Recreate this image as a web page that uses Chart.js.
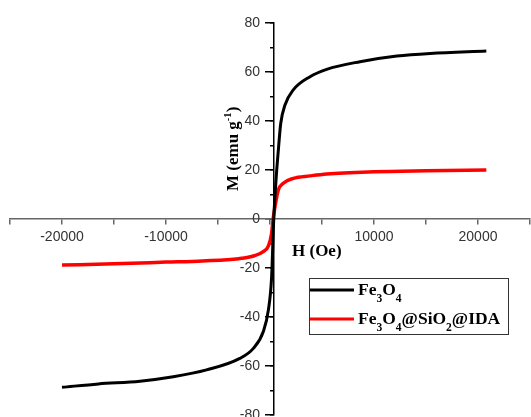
<!DOCTYPE html>
<html>
<head>
<meta charset="utf-8">
<script src="https://cdn.jsdelivr.net/npm/chart.js@4.4.0/dist/chart.umd.min.js"></script>
<style>
  html, body { margin: 0; padding: 0; background: #fff; }
</style>
</head>
<body>
<canvas id="hysteresisChart" width="531" height="417"></canvas>
<script>
// Field (Oe) and magnetisation (emu/g)
const fe3o4Field = [-20000, -16500, -12500, -9300, -6100, -2900, -1600, -650, -150, 150, 360, 580, 800, 1030, 1440, 2240, 3850, 5450, 8650, 12200, 15400, 20800];
const fe3o4Moment = [-68.7, -67.3, -66.2, -64.4, -61.6, -56.9, -52.8, -46, -37, -24, 0, 16, 28, 39, 46.5, 52.7, 58.1, 61.1, 64.2, 66.5, 67.6, 68.6];

const coatedField = [-20000, -15000, -10000, -6500, -3000, -1500, -650, -150, 150, 300, 500, 800, 1280, 2240, 3850, 5450, 10000, 15000, 20800];
const coatedMoment = [-18.8, -18.3, -17.6, -17.1, -16.2, -15, -13.3, -11, -6, 0, 5.5, 11.8, 14.6, 16.6, 17.6, 18.4, 19.3, 19.7, 20];

const seriesNames = ["Fe3O4", "Fe3O4@SiO2@IDA"];
const xTickLabels = [-20000, -10000, 10000, 20000];
const yTickLabels = [-80, -60, -40, -20, 0, 20, 40, 60, 80];

function toPoints(xs, ys) {
  return xs.map((x, i) => ({ x: x, y: ys[i] }));
}

// draws a string where "_x" parts are subscripts and "^x" parts superscripts
function drawRich(ctx, parts, x, y, size) {
  parts.forEach((p) => {
    let s = p, dy = 0, fs = size;
    if (p[0] === "_") { s = p.slice(1); dy = size * 0.38; fs = size * 0.66; }
    if (p[0] === "^") { s = p.slice(1); dy = -size * 0.42; fs = size * 0.62; }
    ctx.font = "bold " + fs + "px 'Liberation Serif', 'Times New Roman', serif";
    ctx.fillText(s, x, y + dy);
    x += ctx.measureText(s).width;
  });
}

const textPlugin = {
  id: "textPlugin",
  afterDraw(chart) {
    const ctx = chart.ctx;
    ctx.save();
    ctx.fillStyle = "#000";
    ctx.textBaseline = "alphabetic";
    ctx.textAlign = "left";

    // x axis title
    drawRich(ctx, ["H (Oe)"], 292, 256, 17);

    // y axis title, rotated
    ctx.save();
    ctx.translate(238, 191);
    ctx.rotate(-Math.PI / 2);
    drawRich(ctx, ["M (emu g", "^-1", ")"], 0, 0, 17);
    ctx.restore();

    // legend box
    ctx.strokeStyle = "#333";
    ctx.lineWidth = 1;
    ctx.strokeRect(309.5, 278.5, 199, 56);

    ctx.lineWidth = 3;
    ctx.strokeStyle = "#000";
    ctx.beginPath();
    ctx.moveTo(310, 290);
    ctx.lineTo(354, 290);
    ctx.stroke();
    drawRich(ctx, ["Fe", "_3", "O", "_4"], 358, 295, 17.5);

    ctx.strokeStyle = "#ff0000";
    ctx.beginPath();
    ctx.moveTo(310, 319);
    ctx.lineTo(354, 319);
    ctx.stroke();
    drawRich(ctx, ["Fe", "_3", "O", "_4", "@SiO", "_2", "@IDA"], 358, 324, 17.5);
    ctx.restore();
  }
};

const tickFont = { family: "'Liberation Sans', Arial, sans-serif", size: 14 };

function noSpace(s) {
  s.width = 0;
  s.paddingTop = 0;
  s.paddingBottom = 0;
}

new Chart(document.getElementById("hysteresisChart"), {
  type: "scatter",
  data: {
    datasets: [
      {
        label: seriesNames[0],
        data: toPoints(fe3o4Field, fe3o4Moment),
        showLine: true,
        borderColor: "#000000",
        borderWidth: 3,
        pointRadius: 0,
        cubicInterpolationMode: "monotone",
        fill: false,
      },
      {
        label: seriesNames[1],
        data: toPoints(coatedField, coatedMoment),
        showLine: true,
        borderColor: "#ff0000",
        borderWidth: 3.5,
        pointRadius: 0,
        cubicInterpolationMode: "monotone",
        fill: false,
      },
    ],
  },
  options: {
    responsive: false,
    animation: false,
    devicePixelRatio: 1,
    layout: { padding: { left: 10, right: 1, top: 23, bottom: 2 } },
    plugins: {
      legend: { display: false },
      tooltip: { enabled: false },
    },
    scales: {
      x: {
        type: "linear",
        min: -25000,
        max: 25000,
        position: { y: 0 },
        border: { color: "#666", width: 1.5 },
        grid: { drawOnChartArea: false, drawTicks: true, tickLength: 5, color: "#666", lineWidth: 1.5 },
        ticks: {
          stepSize: 5000,
          autoSkip: false,
          maxRotation: 0,
          padding: 5,
          color: "#333",
          font: tickFont,
          callback: (v) => (xTickLabels.includes(v) ? String(v) : ""),
        },
        afterFit: (s) => {
          s.height = 0;
          s.paddingLeft = 0;
          s.paddingRight = 0;
        },
      },
      // y axis line + major ticks
      y: {
        type: "linear",
        min: -80,
        max: 80,
        position: { x: 380 },
        border: { color: "#000", width: 1.5 },
        grid: { drawOnChartArea: false, drawTicks: true, tickLength: 8, color: "#000", lineWidth: 1.5 },
        ticks: { stepSize: 20, callback: () => "" },
        afterFit: noSpace,
      },
      // minor ticks
      yMinor: {
        type: "linear",
        min: -80,
        max: 80,
        position: { x: 380 },
        border: { display: false },
        grid: { drawOnChartArea: false, drawTicks: true, tickLength: 4, color: "#000", lineWidth: 1.5 },
        ticks: { stepSize: 10, callback: () => "" },
        afterFit: noSpace,
      },
      // tick labels, set just left of the tick marks
      yLabels: {
        type: "linear",
        min: -80,
        max: 80,
        position: { x: -965 },
        border: { display: false },
        grid: { display: false },
        ticks: {
          stepSize: 20,
          color: "#333",
          font: tickFont,
          callback: (v) => (yTickLabels.includes(v) ? String(v) : ""),
        },
        afterFit: noSpace,
      },
    },
  },
  plugins: [textPlugin],
});
</script>
</body>
</html>
